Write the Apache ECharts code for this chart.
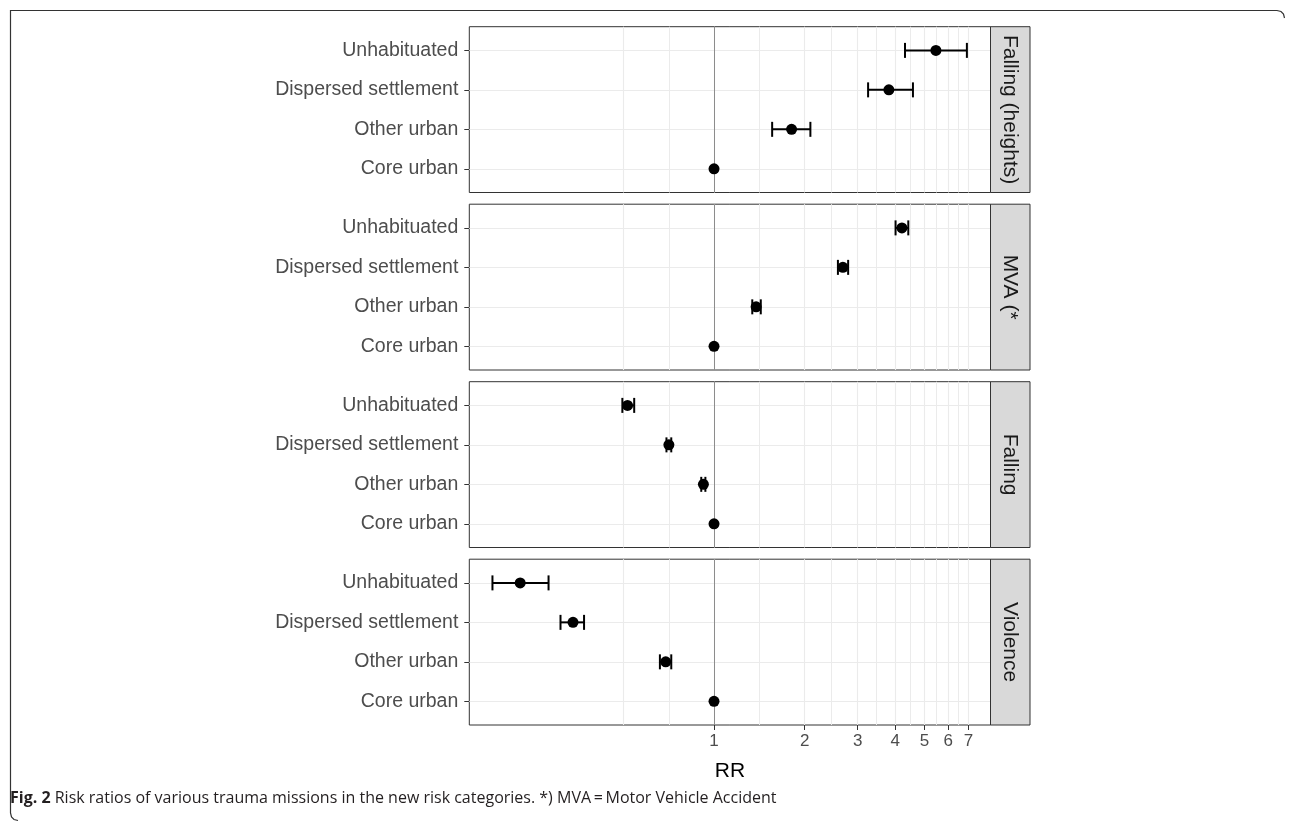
<!DOCTYPE html>
<html>
<head>
<meta charset="utf-8">
<script src="https://cdn.jsdelivr.net/npm/echarts@6/dist/echarts.min.js"></script>
<style>
html,body{margin:0;padding:0;background:#fff;}
#chart{width:1292px;height:822px;}
</style>
</head>
<body>
<div id="chart"></div>
<script>
// ---------- data ----------
// categories from bottom (y=1) to top (y=4)
const categories = ['Core urban', 'Other urban', 'Dispersed settlement', 'Unhabituated'];
const panelNames = ['Falling (heights)', 'MVA (*', 'Falling', 'Violence'];

const rrFallingHeights = [1, 1.81, 3.81, 5.46];
const loFallingHeights = [null, 1.56, 3.25, 4.31];
const hiFallingHeights = [null, 2.09, 4.58, 6.92];

const rrMVA = [1, 1.38, 2.68, 4.21];
const loMVA = [null, 1.34, 2.58, 4.01];
const hiMVA = [null, 1.43, 2.79, 4.42];

const rrFalling = [1, 0.922, 0.708, 0.516];
const loFalling = [null, 0.907, 0.695, 0.496];
const hiFalling = [null, 0.936, 0.721, 0.543];

const rrViolence = [1, 0.691, 0.340, 0.227];
const loViolence = [null, 0.661, 0.309, 0.1836];
const hiViolence = [null, 0.721, 0.370, 0.282];

const xTickLabels = [1, 2, 3, 4, 5, 6, 7];
const xMajorGrid = [0.5, 1, 2, 3, 4, 5, 6, 7];
const xMinorGrid = [0.7071, 1.4142, 2.4495, 3.4641, 4.4721, 5.4772, 6.4807];
const yTicks = [1, 2, 3, 4];
const xRefLine = 1;

const xMin = 0.1538, xMax = 8.29;
const yMin = 0.4, yMax = 4.6;

// ---------- layout ----------
const panelLeft = 469.3, panelWidth = 521.2, panelHeight = 165.8;
const panelTops = [26.7, 204.2, 381.7, 559.2];
const stripWidth = 39.5;
const FONT = '"Liberation Sans", Arial, sans-serif';

const panelData = [
  [rrFallingHeights, loFallingHeights, hiFallingHeights],
  [rrMVA, loMVA, hiMVA],
  [rrFalling, loFalling, hiFalling],
  [rrViolence, loViolence, hiViolence]
];

const grids = [], xAxes = [], yAxes = [], series = [], graphics = [];

panelData.forEach((pd, i) => {
  const [rr, lo, hi] = pd;
  grids.push({
    left: panelLeft, top: panelTops[i], width: panelWidth, height: panelHeight,
    show: true, borderColor: '#333333', borderWidth: 1, backgroundColor: 'transparent',
    containLabel: false
  });
  const isBottom = i === panelData.length - 1;
  xAxes.push({
    type: 'log', logBase: 10, gridIndex: i, min: xMin, max: xMax,
    axisLine: { show: false },
    splitLine: { show: false },
    minorSplitLine: { show: false },
    axisTick: { show: isBottom, customValues: xTickLabels, length: 5, lineStyle: { color: '#333333', width: 1 } },
    axisLabel: { show: isBottom, customValues: xTickLabels, margin: 8, color: '#4d4d4d', fontSize: 17, fontFamily: FONT,
      formatter: v => String(Math.round(v)) },
    name: isBottom ? 'RR' : '',
    nameLocation: 'middle', nameGap: 36,
    nameTextStyle: { color: '#000', fontSize: 21, fontFamily: FONT }
  });
  yAxes.push({
    type: 'value', gridIndex: i, min: yMin, max: yMax,
    axisLine: { show: false },
    splitLine: { show: false },
    axisTick: { show: true, customValues: yTicks, length: 5, lineStyle: { color: '#333333', width: 1 } },
    axisLabel: { show: true, customValues: yTicks, margin: 11, color: '#4d4d4d', fontSize: 19.5, fontFamily: FONT,
      formatter: v => categories[Math.round(v) - 1] }
  });

  // grid lines (major + minor vertical, horizontal at categories)
  const gl = [];
  xMajorGrid.forEach(v => gl.push({ xAxis: v, lineStyle: { color: '#ebebeb', width: 1.1 } }));
  xMinorGrid.forEach(v => gl.push({ xAxis: v, lineStyle: { color: '#ebebeb', width: 1 } }));
  yTicks.forEach(v => gl.push({ yAxis: v, lineStyle: { color: '#ebebeb', width: 1.1 } }));
  series.push({
    type: 'scatter', xAxisIndex: i, yAxisIndex: i, data: [], z: 1, silent: true,
    markLine: { z: 1, silent: true, symbol: 'none', label: { show: false }, animation: false,
      lineStyle: { type: 'solid' }, data: gl }
  });
  // reference line at RR = 1
  series.push({
    type: 'scatter', xAxisIndex: i, yAxisIndex: i, data: [], z: 2, silent: true,
    markLine: { z: 2, silent: true, symbol: 'none', label: { show: false }, animation: false,
      lineStyle: { type: 'solid', color: '#8c8c8c', width: 1 }, data: [{ xAxis: xRefLine }] }
  });
  // error bars
  const ebData = [];
  rr.forEach((v, k) => { if (lo[k] != null) ebData.push([lo[k], hi[k], k + 1]); });
  series.push({
    type: 'custom', xAxisIndex: i, yAxisIndex: i, z: 10, silent: true, animation: false,
    data: ebData,
    encode: { x: [0, 1], y: 2 },
    renderItem: (params, api) => {
      const y = api.value(2);
      const p1 = api.coord([api.value(0), y]);
      const p2 = api.coord([api.value(1), y]);
      const h = 7.5;
      const st = { stroke: '#000', lineWidth: 2 };
      return { type: 'group', children: [
        { type: 'line', shape: { x1: p1[0], y1: p1[1], x2: p2[0], y2: p2[1] }, style: st },
        { type: 'line', shape: { x1: p1[0], y1: p1[1] - h, x2: p1[0], y2: p1[1] + h }, style: st },
        { type: 'line', shape: { x1: p2[0], y1: p2[1] - h, x2: p2[0], y2: p2[1] + h }, style: st }
      ]};
    }
  });
  // points
  series.push({
    type: 'scatter', xAxisIndex: i, yAxisIndex: i, z: 11, silent: true, animation: false,
    symbol: 'circle', symbolSize: 11, itemStyle: { color: '#000', opacity: 1 },
    data: rr.map((v, k) => [v, k + 1])
  });

  // strip
  const stripLeft = panelLeft + panelWidth;
  graphics.push({
    type: 'rect', silent: true, z: 5,
    shape: { x: stripLeft, y: panelTops[i], width: stripWidth, height: panelHeight },
    style: { fill: '#d9d9d9', stroke: '#333333', lineWidth: 1 }
  });
  graphics.push({
    type: 'text', silent: true, z: 6,
    x: stripLeft + stripWidth / 2, y: panelTops[i] + panelHeight / 2,
    rotation: -Math.PI / 2,
    style: { text: panelNames[i], fill: '#1a1a1a', font: '21px ' + FONT, align: 'center', verticalAlign: 'middle' }
  });
});

// figure frame
graphics.push({
  type: 'polyline', silent: true, z: 0,
  shape: { points: [[18, 820.5], [14, 819.5], [11.5, 817], [10.5, 813], [10.5, 10.5], [1277, 10.5], [1281, 11.5], [1283.5, 14], [1284.5, 18]] },
  style: { stroke: '#333333', lineWidth: 1.2, fill: null }
});
// caption
graphics.push({
  type: 'text', silent: true, z: 6, x: 10, y: 798,
  style: {
    text: '{b|Fig. 2} Risk ratios of various trauma missions in the new risk categories. *) MVA\u2009=\u2009Motor Vehicle Accident',
    font: '16px "Open Sans", sans-serif', fill: '#231f20', verticalAlign: 'middle', align: 'left',
    rich: { b: { font: 'bold 16px "Open Sans", sans-serif', fill: '#231f20' } }
  }
});

const chart = echarts.init(document.getElementById('chart'), null, { renderer: 'canvas' });
chart.setOption({
  animation: false,
  backgroundColor: '#ffffff',
  grid: grids, xAxis: xAxes, yAxis: yAxes, series: series, graphic: graphics
});
</script>
</body>
</html>
